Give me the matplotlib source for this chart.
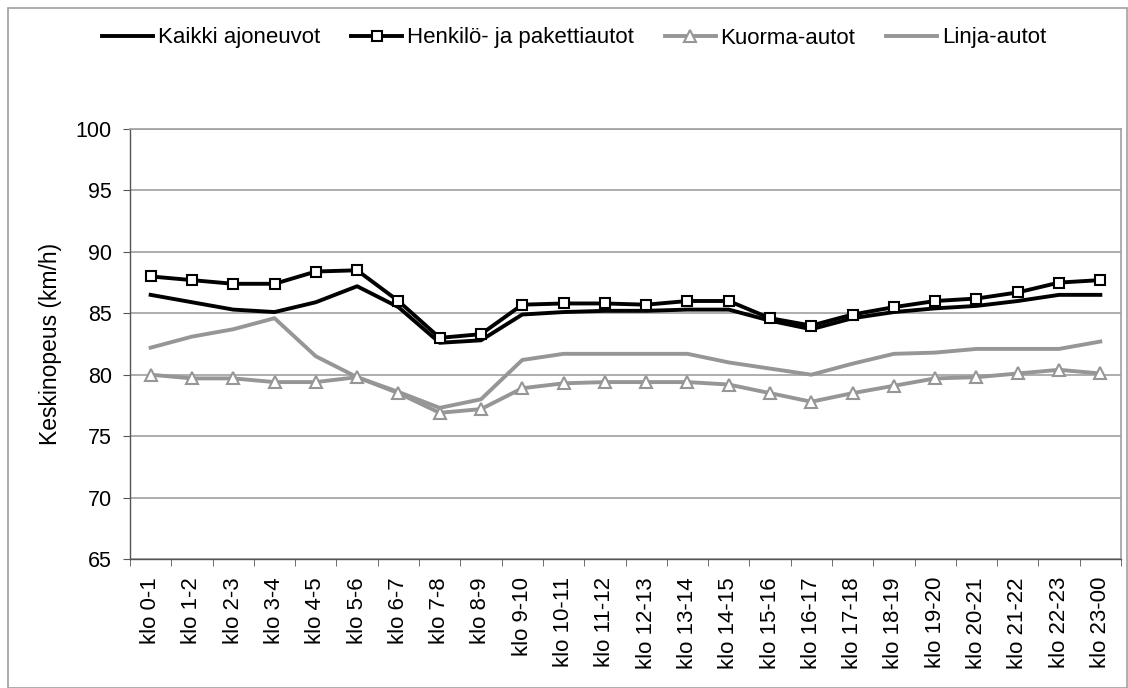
import matplotlib
matplotlib.use("Agg")
import matplotlib.pyplot as plt
from matplotlib.patches import Rectangle

plt.rcParams['font.family'] = ['Liberation Sans', 'DejaVu Sans']

# Tunnit
tunnit = ["klo 0-1", "klo 1-2", "klo 2-3", "klo 3-4", "klo 4-5", "klo 5-6",
          "klo 6-7", "klo 7-8", "klo 8-9", "klo 9-10", "klo 10-11", "klo 11-12",
          "klo 12-13", "klo 13-14", "klo 14-15", "klo 15-16", "klo 16-17",
          "klo 17-18", "klo 18-19", "klo 19-20", "klo 20-21", "klo 21-22",
          "klo 22-23", "klo 23-00"]

# Keskinopeudet (km/h)
kaikki = [86.5, 85.9, 85.3, 85.1, 85.9, 87.2, 85.5, 82.6, 82.8, 84.9, 85.1, 85.2,
          85.2, 85.3, 85.3, 84.4, 83.7, 84.6, 85.1, 85.4, 85.6, 86.0, 86.5, 86.5]
henkilo = [88.0, 87.7, 87.4, 87.4, 88.4, 88.5, 86.0, 83.0, 83.3, 85.7, 85.8, 85.8,
           85.7, 86.0, 86.0, 84.6, 84.0, 84.9, 85.5, 86.0, 86.2, 86.7, 87.5, 87.7]
kuorma = [80.0, 79.7, 79.7, 79.4, 79.4, 79.8, 78.5, 76.9, 77.2, 78.9, 79.3, 79.4,
          79.4, 79.4, 79.2, 78.5, 77.8, 78.5, 79.1, 79.7, 79.8, 80.1, 80.4, 80.1]
linja = [82.2, 83.1, 83.7, 84.6, 81.5, 79.8, 78.6, 77.3, 78.0, 81.2, 81.7, 81.7,
         81.7, 81.7, 81.0, 80.5, 80.0, 80.9, 81.7, 81.8, 82.1, 82.1, 82.1, 82.7]

harmaa = "#969696"
x = list(range(len(tunnit)))

fig = plt.figure(figsize=(11.28, 6.88), dpi=100)
ax = fig.add_axes([130 / 1128, 1 - 559 / 688, 991 / 1128, 430 / 688])

ax.plot(x, linja, color=harmaa, lw=2.8, label="Linja-autot", zorder=3)
ax.plot(x, kuorma, color=harmaa, lw=2.8, marker="^", markersize=8,
        markerfacecolor="white", markeredgecolor=harmaa, markeredgewidth=1.5,
        label="Kuorma-autot", zorder=3)
ax.plot(x, kaikki, color="black", lw=2.8, label="Kaikki ajoneuvot", zorder=4)
ax.plot(x, henkilo, color="black", lw=2.8, marker="s", markersize=7,
        markerfacecolor="white", markeredgecolor="black", markeredgewidth=1.5,
        label="Henkilö- ja pakettiautot", zorder=4)

ax.set_ylim(65, 100)
ax.set_yticks(range(65, 101, 5))
ax.set_xlim(-0.5, len(tunnit) - 0.5)
ax.set_xticks(x)
ax.set_xticklabels(tunnit, rotation=90, fontsize=16)
ax.set_xticks([i - 0.5 for i in range(len(tunnit) + 1)], minor=True)
ax.tick_params(axis="x", which="major", length=0, pad=13)
ax.tick_params(axis="x", which="minor", length=5, color="#555555", direction="out")
ax.tick_params(axis="y", labelsize=15.5, length=5, color="#555555", direction="out", pad=8)
ax.yaxis.grid(True, color="#a0a0a0", lw=1.2)
ax.set_axisbelow(True)
ax.set_ylabel("Keskinopeus (km/h)", fontsize=16.5)
ax.yaxis.set_label_coords(-0.069, 0.5)

for s in ["top", "right"]:
    ax.spines[s].set_color("#a0a0a0")
    ax.spines[s].set_linewidth(1.2)
for s in ["left", "bottom"]:
    ax.spines[s].set_color("#555555")
    ax.spines[s].set_linewidth(1.0)

h, l = ax.get_legend_handles_labels()
order = [2, 3, 1, 0]
fig.legend([h[i] for i in order], [l[i] for i in order], loc="center",
           bbox_to_anchor=(0.509, 1 - 38 / 688), ncol=4, frameon=False,
           fontsize=16, handlelength=2.3, handletextpad=0.2, columnspacing=1.4)

fig.patches.append(Rectangle((8 / 1128, 0.5 / 688), 1119 / 1128, 680 / 688,
                             transform=fig.transFigure, fill=False,
                             edgecolor="#a0a0a0", lw=1.2))

plt.savefig("out.png", format="png", dpi=100)
